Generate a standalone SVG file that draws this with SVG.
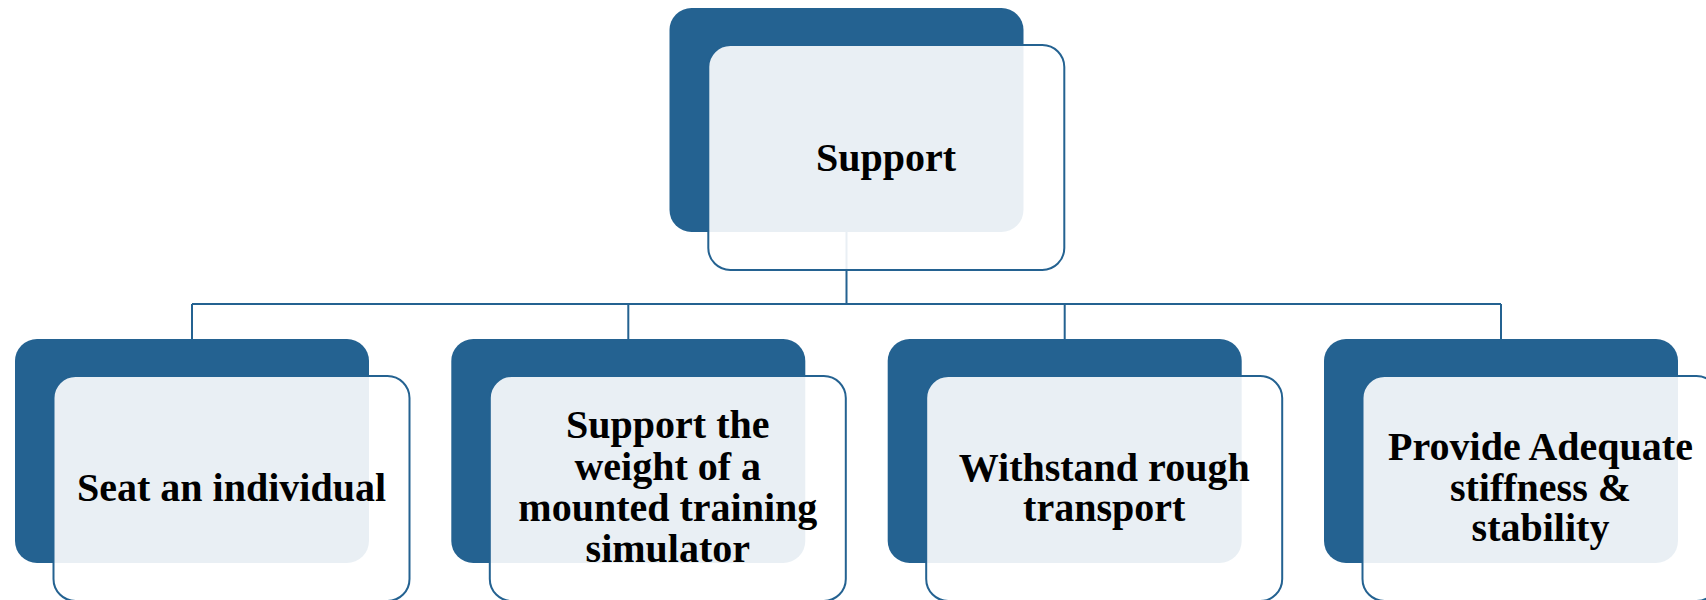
<svg xmlns="http://www.w3.org/2000/svg" width="1706" height="600" viewBox="0 0 1706 600">
<style>
.dark{fill:#246291}
.light{fill:#ffffff;fill-opacity:0.9;stroke:#246291;stroke-width:2}
.conn{fill:none;stroke:#246291;stroke-width:2}
text{font-family:"Liberation Serif","Times New Roman",serif;font-weight:bold;font-size:40px;fill:#000;text-anchor:middle}
</style>
<rect width="1706" height="600" fill="#ffffff"/>
<g id="connectors">
<path class="conn" d="M846.5 231V304M192 304H1501M192 304V339M628.3 304V339M1064.7 304V339M1501 304V339"/>
</g>
<g id="node-support">
<rect class="dark" x="669.5" y="8" width="354" height="224" rx="22"/>
<rect class="light" x="708.3" y="45" width="356" height="225" rx="22"/>
<text x="886" y="171">Support</text>
</g>
<g id="node-seat">
<rect class="dark" x="15" y="339" width="354" height="224" rx="22"/>
<rect class="light" x="53.5" y="376" width="356" height="225" rx="22"/>
<text x="231.5" y="500.7">Seat an individual</text>
</g>
<g id="node-weight">
<rect class="dark" x="451.3" y="339" width="354" height="224" rx="22"/>
<rect class="light" x="489.8" y="376" width="356" height="225" rx="22"/>
<text x="667.8" y="438.3">Support the</text>
<text x="667.8" y="479.5">weight of a</text>
<text x="667.8" y="520.7">mounted training</text>
<text x="667.8" y="561.7">simulator</text>
</g>
<g id="node-transport">
<rect class="dark" x="887.7" y="339" width="354" height="224" rx="22"/>
<rect class="light" x="926.2" y="376" width="356" height="225" rx="22"/>
<text x="1104.2" y="480.7">Withstand rough</text>
<text x="1104.2" y="520.7">transport</text>
</g>
<g id="node-stiffness">
<rect class="dark" x="1324" y="339" width="354" height="224" rx="22"/>
<rect class="light" x="1362.5" y="376" width="356" height="225" rx="22"/>
<text x="1540.5" y="460">Provide Adequate</text>
<text x="1540.5" y="500.5">stiffness &amp;</text>
<text x="1540.5" y="540.5">stability</text>
</g>
</svg>
